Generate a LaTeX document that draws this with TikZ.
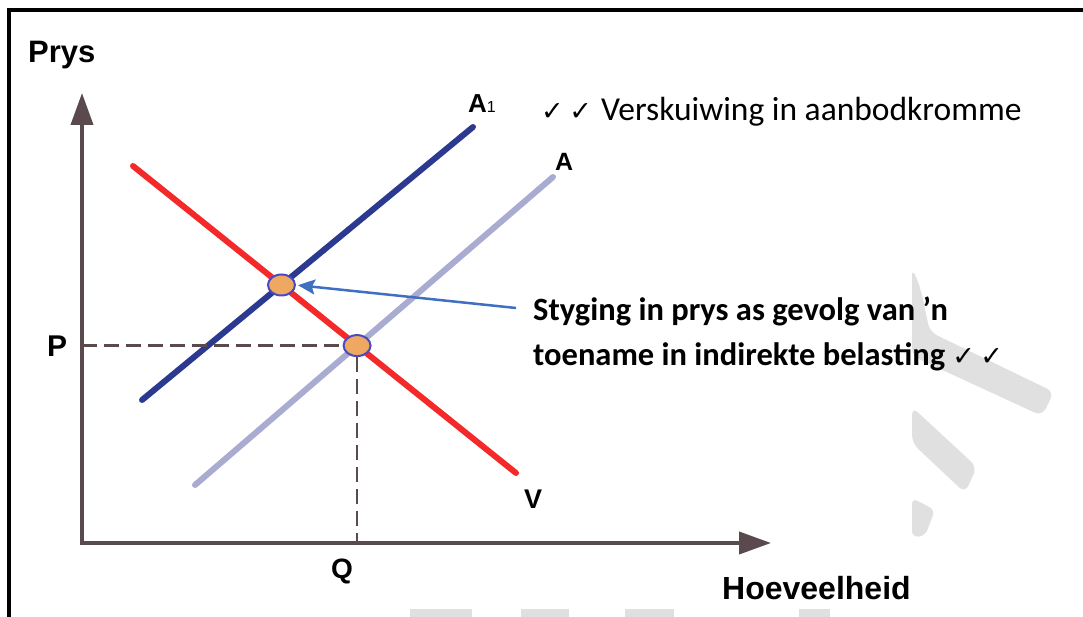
\documentclass[tikz,border=0pt]{standalone}
\usepackage{fontspec}
\setmainfont{Liberation Sans}
\newfontfamily\calib{Carlito}
\newfontfamily\djv{DejaVu Sans}
\usetikzlibrary{arrows.meta,shapes.geometric}
\definecolor{axisc}{HTML}{5A4A4E}
\definecolor{vred}{HTML}{F42A2A}
\definecolor{navy}{HTML}{2B3990}
\definecolor{lav}{HTML}{A9ABD1}
\definecolor{dotfill}{HTML}{EEA862}
\definecolor{dotedge}{HTML}{4A4AC0}
\definecolor{arrblue}{HTML}{3E6FC0}
\definecolor{wm}{HTML}{E0E0E0}
\newcommand{\ck}{{\djv\fontsize{27}{27}\selectfont ✓}}
\begin{document}
\begin{tikzpicture}[x=1pt,y=-1pt,
  axisline/.style={draw=axisc,line width=4pt,line join=miter},
  curve/.style={line width=6pt,line cap=round},
  dashline/.style={draw=axisc,line width=2.4pt,dash pattern=on 15pt off 7pt},
  dot/.style={ellipse,draw=dotedge,fill=dotfill,line width=2pt,minimum width=27pt,minimum height=21pt,inner sep=0pt},
  lbl/.style={font=\bfseries\fontsize{30}{30}\selectfont,inner sep=0pt,anchor=base west},
  note/.style={font=\calib\fontsize{33.5}{33.5}\selectfont,inner sep=0pt,anchor=base west},
  watermark/.style={fill=wm,draw=none}]
\useasboundingbox (0,0) rectangle (1083,617);
% watermark
\fill[watermark,rounded corners=8pt] (912,268) .. controls (922,290) and (925,310) .. (930,332) -- (1054,392) -- (1042,416) -- (912,356) -- cycle;
\fill[watermark,rounded corners=8pt] (912,407) -- (977,467) -- (965,493) -- (912,443) -- cycle;
\fill[watermark,rounded corners=6pt] (912,498) -- (935,510) -- (925,536) -- (912,537) -- cycle;
\fill[watermark] (410,609) rectangle (472,617);
\fill[watermark] (521,609) rectangle (569,617);
\fill[watermark] (625,609) rectangle (674,617);
\fill[watermark] (799,609) rectangle (830,617);
% frame
\draw[line width=4pt,line join=miter] (9,617) -- (9,10) -- (1083,10);
% axes
\coordinate (O) at (82,543);
\coordinate (ytip) at (82,93);
\coordinate (xtip) at (771,543);
\draw[axisline,{Triangle[length=32pt,width=22pt]}-{Triangle[length=32pt,width=22pt]}] (ytip) -- (O) -- (xtip);
% curves
\coordinate (V1) at (133,166);
\coordinate (V2) at (516,473);
\coordinate (B1) at (142,400);
\coordinate (B2) at (473,127);
\coordinate (C1) at (195,485);
\coordinate (C2) at (553,177);
\draw[curve,lav] (C1) -- (C2);
\draw[curve,navy] (B1) -- (B2);
\draw[curve,vred] (V1) -- (V2);
% equilibrium points
\node[dot] (e1) at (intersection of V1--V2 and B1--B2) {};
\node[dot] (e2) at (intersection of V1--V2 and C1--C2) {};
\coordinate (py) at (O |- e2);
\coordinate (qx) at (e2 |- O);
\draw[dashline] (py) -- (e2.west);
\draw[dashline] (e2.south) -- (qx);
% labels
\node[lbl,font=\bfseries\fontsize{31}{31}\selectfont] (prys) at (28,63) {Prys};
\node[lbl] (plbl) at (47,356) {P};
\node[lbl,font=\bfseries\fontsize{28}{28}\selectfont] (qlbl) at (331,578) {Q};
\node[lbl,font=\bfseries\fontsize{27}{27}\selectfont] (vlbl) at (524,508) {V};
\node[lbl,font=\bfseries\fontsize{32}{32}\selectfont] (hoev) at (722,599) {Hoeveelheid};
\node[lbl,font=\bfseries\fontsize{26}{26}\selectfont] (a1lbl) at (468,113) {A{\mdseries\fontsize{16}{16}\selectfont 1}};
\node[lbl,font=\bfseries\fontsize{25}{25}\selectfont] (albl) at (555,171) {A};
\node[note] (shift) at (541,121) {\ck\,\ck\hspace{9pt}Verskuiwing in aanbodkromme};
\node[note,font=\calib\bfseries\fontsize{32.5}{32.5}\selectfont,anchor=north west,align=left] (rise) at (533,297) {Styging in prys as gevolg van ’n\\[12pt]toename in indirekte belasting \ck\,\ck};
\coordinate (arrstart) at (516,308);
\draw[arrblue,line width=2.5pt,-{Stealth[length=17pt,width=15pt,inset=3pt]},shorten >=2pt] (arrstart) -- (e1.east);
\end{tikzpicture}
\end{document}
